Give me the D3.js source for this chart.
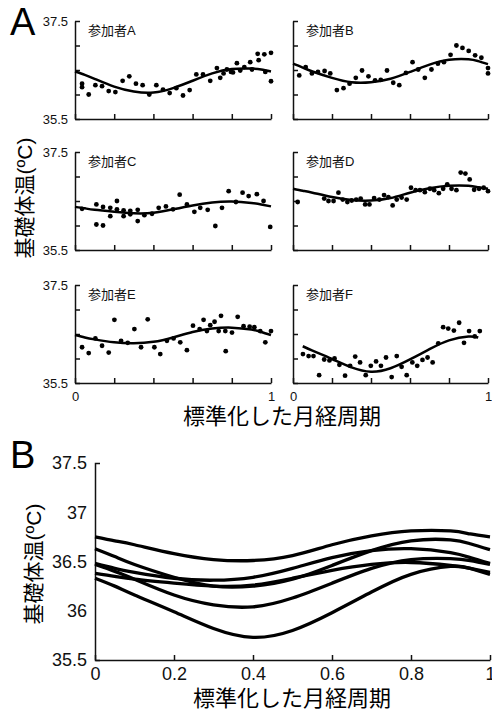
<!DOCTYPE html>
<html>
<head>
<meta charset="utf-8">
<script src="https://cdn.jsdelivr.net/npm/d3@7"></script>
<style>
body { margin: 0; background: #fff; }
svg { display: block; font-family: "Liberation Sans", Arial, "Noto Sans CJK JP", sans-serif; }
.axis path, .axis line { stroke: #111; stroke-width: 1.5; }
.axis text { fill: #111; }
</style>
</head>
<body>
<div id="chart"></div>
<script>

// normalized cycle positions where the fitted curves were read
var fitX = [0, 0.05, 0.1, 0.2, 0.3, 0.4, 0.5, 0.6, 0.7, 0.8, 0.9, 0.95, 1];

// fitted basal body temperature curves (degC)
var fitA = [36.47, 36.40, 36.32, 36.16, 36.06, 36.04, 36.13, 36.28, 36.43, 36.52, 36.53, 36.51, 36.47];
var fitB = [36.63, 36.55, 36.47, 36.34, 36.25, 36.25, 36.32, 36.46, 36.61, 36.71, 36.72, 36.68, 36.62];
var fitC = [36.38, 36.35, 36.32, 36.28, 36.25, 36.26, 36.33, 36.41, 36.47, 36.49, 36.46, 36.43, 36.39];
var fitD = [36.75, 36.71, 36.67, 36.58, 36.52, 36.51, 36.56, 36.67, 36.76, 36.81, 36.81, 36.78, 36.75];
var fitE = [36.48, 36.43, 36.39, 36.33, 36.31, 36.34, 36.43, 36.54, 36.61, 36.63, 36.59, 36.54, 36.48];
var fitF = [36.33, 36.25, 36.16, 35.99, 35.82, 35.73, 35.80, 35.98, 36.19, 36.37, 36.45, 36.43, 36.37];

// daily measurements [normalized cycle, degC]
var dayA = [[0.036,36.22],[0.036,36.15],[0.070,36.00],[0.104,36.19],[0.138,36.17],[0.172,36.07],[0.206,36.05],
    [0.243,36.28],[0.277,36.37],[0.311,36.22],[0.345,36.19],[0.379,36.00],[0.415,36.19],[0.449,36.10],[0.483,36.03],
    [0.517,36.13],[0.551,35.98],[0.585,36.09],[0.619,36.41],[0.653,36.41],[0.690,36.28],[0.724,36.54],[0.741,36.34],
    [0.758,36.43],[0.775,36.51],[0.796,36.46],[0.806,36.45],[0.826,36.64],[0.843,36.49],[0.864,36.56],[0.894,36.66],
    [0.903,36.51],[0.932,36.83],[0.937,36.70],[0.966,36.82],[0.971,36.46],[1.0,36.85],[1.0,36.27]];
var dayB = [[0.032,36.39],[0.065,36.56],[0.097,36.43],[0.128,36.46],[0.162,36.48],[0.191,36.43],[0.225,36.09],
    [0.259,36.13],[0.290,36.22],[0.322,36.34],[0.354,36.49],[0.387,36.37],[0.421,36.29],[0.450,36.30],[0.482,36.49],
    [0.514,36.24],[0.545,36.19],[0.579,36.44],[0.613,36.66],[0.642,36.51],[0.676,36.34],[0.710,36.51],[0.743,36.63],
    [0.774,36.66],[0.808,36.81],[0.838,37.00],[0.869,36.95],[0.901,36.89],[0.934,36.80],[0.966,36.75],[1.0,36.54],[1.0,36.43]];
var dayC = [[0.036,36.34],[0.109,36.43],[0.109,36.02],[0.143,36.38],[0.143,36.00],[0.180,36.36],[0.180,36.19],
    [0.214,36.50],[0.214,36.33],[0.248,36.31],[0.248,36.19],[0.282,36.30],[0.282,36.23],[0.320,36.32],[0.320,36.09],
    [0.354,36.21],[0.393,36.24],[0.427,36.36],[0.464,36.39],[0.500,36.33],[0.534,36.63],[0.571,36.43],[0.609,36.28],
    [0.639,36.36],[0.677,36.32],[0.716,35.99],[0.750,36.36],[0.784,36.70],[0.821,36.48],[0.855,36.67],[0.886,36.60],
    [0.928,36.64],[0.962,36.50],[0.996,35.97]];
var dayD = [[0.024,36.48],[0.160,36.55],[0.182,36.50],[0.208,36.50],[0.233,36.67],[0.255,36.53],[0.279,36.48],
    [0.301,36.51],[0.324,36.53],[0.347,36.55],[0.370,36.43],[0.392,36.43],[0.416,36.56],[0.443,36.53],[0.467,36.62],
    [0.489,36.58],[0.511,36.41],[0.532,36.53],[0.557,36.57],[0.583,36.53],[0.605,36.77],[0.629,36.72],[0.651,36.72],
    [0.676,36.68],[0.702,36.75],[0.724,36.72],[0.748,36.66],[0.770,36.75],[0.791,36.84],[0.813,36.75],[0.838,36.72],
    [0.860,37.08],[0.884,37.06],[0.906,36.94],[0.929,36.73],[0.954,36.75],[0.978,36.77],[1.0,36.70]];
var dayE = [[0.036,36.23],[0.070,36.11],[0.104,36.41],[0.138,36.26],[0.172,36.12],[0.201,36.79],[0.235,36.36],
    [0.269,36.32],[0.303,36.60],[0.337,36.23],[0.371,36.80],[0.405,36.23],[0.435,36.09],[0.469,36.36],[0.503,36.41],
    [0.537,36.33],[0.571,36.17],[0.602,36.67],[0.636,36.60],[0.656,36.79],[0.673,36.56],[0.690,36.68],[0.712,36.75],
    [0.733,36.56],[0.745,36.87],[0.767,36.56],[0.769,36.15],[0.801,36.53],[0.830,36.85],[0.860,36.66],[0.891,36.65],
    [0.915,36.64],[0.945,36.56],[0.971,36.33],[1.0,36.56]];
var dayF = [[0.051,36.09],[0.080,36.05],[0.105,36.05],[0.134,35.66],[0.160,35.98],[0.187,35.96],[0.213,36.00],
    [0.238,35.87],[0.267,35.65],[0.293,35.85],[0.319,36.04],[0.344,35.92],[0.373,35.66],[0.399,35.85],[0.426,35.94],
    [0.451,35.85],[0.477,36.02],[0.506,35.62],[0.532,36.05],[0.557,35.83],[0.583,35.66],[0.612,35.92],[0.637,35.85],
    [0.664,35.97],[0.690,36.02],[0.716,35.92],[0.745,36.31],[0.770,36.64],[0.796,36.61],[0.825,36.57],[0.852,36.73],
    [0.877,36.32],[0.903,36.56],[0.932,36.45],[0.958,36.56]];

var participants = ["参加者A", "参加者B", "参加者C", "参加者D", "参加者E", "参加者F"];
var yTicks = [35.5, 36, 36.5, 37, 37.5];
var xTicks = [0, 0.2, 0.4, 0.6, 0.8, 1];
var yTitle = "基礎体温(ºC)";
var xTitle = "標準化した月経周期";

var fits = [fitA, fitB, fitC, fitD, fitE, fitF];
var days = [dayA, dayB, dayC, dayD, dayE, dayF];
// participant F's fit only covers part of the cycle in panel A
var fitRange = [[0, 1], [0, 1], [0, 1], [0, 1], [0, 1], [0.05, 0.95]];

var width = 492, height = 716;

var svg = d3.select("#chart").append("svg")
    .attr("width", width)
    .attr("height", height);

// ---- Panel A: small multiples ----
var cols = [{ x0: 75, x1: 271 }, { x0: 293, x1: 488 }];
var rows = [21, 152, 285];
var cellH = 98;

participants.forEach(function(name, i) {
    var col = i % 2, row = Math.floor(i / 2);

    var x = d3.scaleLinear().domain([0, 1]).range([cols[col].x0, cols[col].x1]);
    var y = d3.scaleLinear().domain([35.5, 37.5]).range([rows[row] + cellH, rows[row]]);

    var g = svg.append("g");

    var yAxis = d3.axisLeft(y)
        .tickValues(yTicks)
        .tickSize(-5)
        .tickSizeOuter(0)
        .tickPadding(7)
        .tickFormat(function(d) {
            return (col === 0 && (d === 37.5 || d === 35.5)) ? d3.format(".1f")(d) : "";
        });

    var xAxis = d3.axisBottom(x)
        .tickValues(xTicks)
        .tickSize(-5)
        .tickSizeOuter(0)
        .tickPadding(9)
        .tickFormat(function(d) {
            return (row === 2 && (d === 0 || d === 1)) ? String(d) : "";
        });

    g.append("g")
        .attr("class", "axis")
        .attr("transform", "translate(" + cols[col].x0 + ",0)")
        .call(yAxis)
        .attr("font-family", null)
        .attr("font-size", 13);

    g.append("g")
        .attr("class", "axis")
        .attr("transform", "translate(0," + (rows[row] + cellH) + ")")
        .call(xAxis)
        .attr("font-family", null)
        .attr("font-size", 13);

    var pts = fitX.map(function(d, j) { return [d, fits[i][j]]; })
        .filter(function(p) { return p[0] >= fitRange[i][0] && p[0] <= fitRange[i][1]; });

    var line = d3.line()
        .x(function(p) { return x(p[0]); })
        .y(function(p) { return y(p[1]); })
        .curve(d3.curveNatural);

    g.append("path")
        .datum(pts)
        .attr("d", line)
        .attr("fill", "none")
        .attr("stroke", "#000")
        .attr("stroke-width", 2.5);

    g.selectAll("circle")
        .data(days[i])
        .enter()
        .append("circle")
        .attr("cx", function(d) { return x(d[0]); })
        .attr("cy", function(d) { return y(d[1]); })
        .attr("r", 2.4)
        .attr("fill", "#000");

    g.append("text")
        .attr("x", cols[col].x0 + 13)
        .attr("y", rows[row] + 14)
        .attr("font-size", 13)
        .attr("fill", "#111")
        .text(name);
});

svg.append("text")
    .attr("x", 10)
    .attr("y", 35)
    .attr("font-size", 38)
    .text("A");

svg.append("text")
    .attr("transform", "translate(24,198) rotate(-90)")
    .attr("text-anchor", "middle")
    .attr("dominant-baseline", "central")
    .attr("font-size", 21)
    .text(yTitle);

svg.append("text")
    .attr("x", 282)
    .attr("y", 416)
    .attr("text-anchor", "middle")
    .attr("dominant-baseline", "central")
    .attr("font-size", 22)
    .text(xTitle);

// ---- Panel B: all fitted curves overlaid ----
var xB = d3.scaleLinear().domain([0, 1]).range([95, 490]);
var yB = d3.scaleLinear().domain([35.5, 37.5]).range([660, 463]);

var gB = svg.append("g");

gB.append("g")
    .attr("class", "axis")
    .attr("transform", "translate(95,0)")
    .call(d3.axisLeft(yB)
        .tickValues(yTicks)
        .tickSizeInner(0)
        .tickSizeOuter(-5)
        .tickPadding(8)
        .tickFormat(function(d) { return String(d); }))
    .attr("font-family", null)
    .attr("font-size", 18);

gB.append("g")
    .attr("class", "axis")
    .attr("transform", "translate(0,660)")
    .call(d3.axisBottom(xB)
        .tickValues(xTicks)
        .tickSize(-5)
        .tickSizeOuter(0)
        .tickPadding(7)
        .tickFormat(function(d) { return String(d); }))
    .attr("font-family", null)
    .attr("font-size", 18);

var lineB = d3.line()
    .x(function(p) { return xB(p[0]); })
    .y(function(p) { return yB(p[1]); })
    .curve(d3.curveNatural);

gB.selectAll("path.fit")
    .data(fits)
    .enter()
    .append("path")
    .attr("class", "fit")
    .attr("d", function(f) { return lineB(fitX.map(function(d, j) { return [d, f[j]]; })); })
    .attr("fill", "none")
    .attr("stroke", "#000")
    .attr("stroke-width", 3.3);

svg.append("text")
    .attr("x", 10)
    .attr("y", 468)
    .attr("font-size", 38)
    .text("B");

svg.append("text")
    .attr("transform", "translate(33,564) rotate(-90)")
    .attr("text-anchor", "middle")
    .attr("dominant-baseline", "central")
    .attr("font-size", 21)
    .text(yTitle);

svg.append("text")
    .attr("x", 292)
    .attr("y", 698)
    .attr("text-anchor", "middle")
    .attr("dominant-baseline", "central")
    .attr("font-size", 22)
    .text(xTitle);

</script>
</body>
</html>
